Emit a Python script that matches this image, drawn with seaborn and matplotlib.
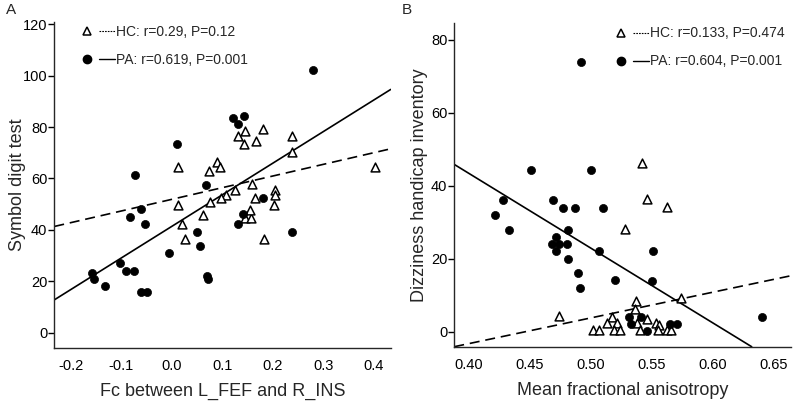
import matplotlib.pyplot as plt
import numpy as np
import pandas as pd
import seaborn as sns
from matplotlib.lines import Line2D
from matplotlib.legend_handler import HandlerTuple

# Panel A: Fc between L_FEF and R_INS vs symbol digit test
a_hc_x = [0.012, 0.073, 0.090, 0.095, 0.131, 0.144, 0.142, 0.166, 0.181, 0.237,
          0.238, 0.401, 0.159, 0.125, 0.106, 0.097, 0.075, 0.165, 0.203, 0.204,
          0.202, 0.011, 0.020, 0.025, 0.062, 0.145, 0.157, 0.155, 0.182]
a_hc_y = [64.6, 62.8, 66.6, 64.6, 76.5, 78.6, 73.4, 74.5, 79.4, 76.5,
          70.4, 64.4, 57.7, 55.6, 53.5, 52.5, 51.0, 52.5, 55.5, 53.5,
          49.6, 49.6, 42.3, 36.5, 45.6, 44.6, 44.6, 47.6, 36.6]
a_pa_x = [0.280, 0.121, 0.130, 0.143, 0.009, -0.074, 0.068, 0.181, -0.062, -0.084,
          -0.053, -0.159, -0.154, -0.132, -0.102, -0.092, -0.076, -0.061, -0.050,
          -0.006, 0.050, 0.055, 0.070, 0.071, 0.131, 0.141, 0.237]
a_pa_y = [102.2, 83.4, 81.2, 84.4, 73.4, 61.2, 57.3, 52.4, 48.3, 45.1,
          42.1, 23.1, 21.0, 18.1, 27.0, 24.1, 24.1, 16.0, 16.0,
          31.1, 39.1, 33.9, 22.1, 20.9, 42.1, 46.3, 39.3]
# fitted lines (slope, intercept)
a_hc_fit = (45.4, 51.9)
a_pa_fit = (123.0, 41.4)

# Panel B: mean fractional anisotropy vs dizziness handicap inventory
b_hc_x = [0.542, 0.5457, 0.5625, 0.528, 0.574, 0.474, 0.5014, 0.5066, 0.5175, 0.5134,
          0.521, 0.519, 0.524, 0.5366, 0.536, 0.5374, 0.540, 0.5456, 0.5533, 0.556,
          0.5546, 0.562, 0.566]
b_hc_y = [46.3, 36.4, 34.3, 28.1, 9.3, 4.4, 0.4, 0.4, 4.0, 2.5,
          2.5, 0.4, 0.4, 8.3, 6.3, 2.5, 0.4, 3.5, 2.5, 1.8,
          0.4, 0.4, 0.4]
b_pa_x = [0.492, 0.4505, 0.500, 0.428, 0.469, 0.4213, 0.433, 0.477, 0.487, 0.5096,
          0.481, 0.471, 0.468, 0.474, 0.4806, 0.4716, 0.481, 0.507, 0.489, 0.491,
          0.5194, 0.551, 0.5503, 0.640, 0.531, 0.533, 0.541, 0.5456, 0.5648, 0.5702]
b_pa_y = [74.0, 44.3, 44.3, 36.0, 36.0, 32.0, 28.0, 34.0, 34.0, 34.0,
          28.0, 26.0, 24.1, 24.1, 24.1, 22.0, 20.0, 22.0, 16.0, 12.0,
          14.1, 22.0, 14.0, 4.1, 4.1, 2.1, 4.1, 0.2, 2.1, 2.1]
b_hc_fit = (70.5, -31.45)
b_pa_fit = (-205.0, 125.4)

sns.set_style("ticks")
plt.rcParams['font.family'] = ['Liberation Sans', 'DejaVu Sans']

fig = plt.figure(figsize=(7.95, 4.04), dpi=100)
ax_a = fig.add_axes([0.0683, 0.1386, 0.4231, 0.8074])
ax_b = fig.add_axes([0.5714, 0.1418, 0.4232, 0.8002])


def draw_panel(ax, hc_x, hc_y, pa_x, pa_y, hc_fit, pa_fit, hc_label, pa_label):
    hc = pd.DataFrame({"x": hc_x, "y": hc_y})
    pa = pd.DataFrame({"x": pa_x, "y": pa_y})
    sns.scatterplot(data=hc, x="x", y="y", ax=ax, marker="^", s=40,
                    color="white", edgecolor="black", linewidth=1.1, zorder=3)
    sns.scatterplot(data=pa, x="x", y="y", ax=ax, marker="o", s=34,
                    color="black", edgecolor="black", linewidth=0.5, zorder=3)
    ax.axline((0, hc_fit[1]), slope=hc_fit[0], color="black", lw=1.2,
              linestyle=(0, (6, 3.5)), zorder=2)
    ax.axline((0, pa_fit[1]), slope=pa_fit[0], color="black", lw=1.2, zorder=2)

    h_hc = (Line2D([], [], marker="^", ls="none", markersize=6, markerfacecolor="white",
                   markeredgecolor="black", markeredgewidth=1.1),
            Line2D([], [], color="black", lw=0.8, ls=(0, (1.5, 1))))
    h_pa = (Line2D([], [], marker="o", ls="none", markersize=6, color="black"),
            Line2D([], [], color="black", lw=1.0))
    return [h_hc, h_pa], [hc_label, pa_label]


handles, labels = draw_panel(ax_a, a_hc_x, a_hc_y, a_pa_x, a_pa_y, a_hc_fit, a_pa_fit,
                             "HC: r=0.29, P=0.12", "PA: r=0.619, P=0.001")
ax_a.legend(handles, labels, handler_map={tuple: HandlerTuple(ndivide=None, pad=0.3)},
            loc="upper left", bbox_to_anchor=(0.052, 1.012), frameon=False,
            borderpad=0, handlelength=2.6, handletextpad=0.1, labelspacing=1.0,
            fontsize=10)
ax_a.set_xlim(-0.233, 0.433)
ax_a.set_ylim(-6, 121)
ax_a.set_xticks([-0.2, -0.1, 0.0, 0.1, 0.2, 0.3, 0.4])
ax_a.set_xticklabels(["-0.2", "-0.1", "0.0", "0.1", "0.2", "0.3", "0.4"])
ax_a.set_yticks([0, 20, 40, 60, 80, 100, 120])
ax_a.set_xlabel("Fc between L_FEF and R_INS", fontsize=13, labelpad=7)
ax_a.set_ylabel("Symbol digit test", fontsize=13)
ax_a.yaxis.set_label_coords(-0.084, 0.5)

handles, labels = draw_panel(ax_b, b_hc_x, b_hc_y, b_pa_x, b_pa_y, b_hc_fit, b_pa_fit,
                             "HC: r=0.133, P=0.474", "PA: r=0.604, P=0.001")
ax_b.legend(handles, labels, handler_map={tuple: HandlerTuple(ndivide=None, pad=0.3)},
            loc="upper right", bbox_to_anchor=(1.003, 1.012), frameon=False,
            borderpad=0, handlelength=2.6, handletextpad=0.1, labelspacing=1.0,
            fontsize=10)
ax_b.set_xlim(0.388, 0.6637)
ax_b.set_ylim(-4.1, 84.5)
ax_b.set_xticks([0.40, 0.45, 0.50, 0.55, 0.60, 0.65])
ax_b.set_xticklabels(["0.40", "0.45", "0.50", "0.55", "0.60", "0.65"])
ax_b.set_yticks([0, 20, 40, 60, 80])
ax_b.set_xlabel("Mean fractional anisotropy", fontsize=13, labelpad=7)
ax_b.set_ylabel("Dizziness handicap inventory", fontsize=13)
ax_b.yaxis.set_label_coords(-0.078, 0.5)

for ax in (ax_a, ax_b):
    sns.despine(ax=ax)
    ax.spines["left"].set_linewidth(1.0)
    ax.spines["bottom"].set_linewidth(1.0)
    ax.tick_params(axis="y", length=4, width=1, labelsize=10.5, pad=1, colors="black")
    ax.tick_params(axis="x", length=0, labelsize=10.5, pad=8, colors="black")

fig.text(0.008, 0.975, "A", fontsize=11, va="center")
fig.text(0.505, 0.975, "B", fontsize=11, va="center")

fig.savefig("out.png", dpi=100)
